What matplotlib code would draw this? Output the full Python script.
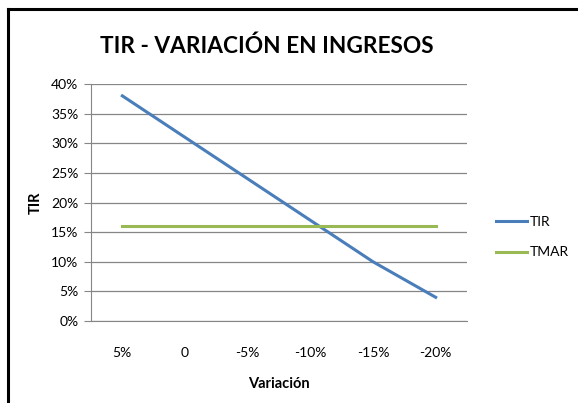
import matplotlib.pyplot as plt
from matplotlib.lines import Line2D
from matplotlib.ticker import FuncFormatter

# datos
variacion = ['5%', '0', '-5%', '-10%', '-15%', '-20%']
tir = [0.38, 0.31, 0.24, 0.17, 0.10, 0.04]
tmar = [0.16, 0.16, 0.16, 0.16, 0.16, 0.16]

plt.rcParams['font.family'] = ['Lato', 'DejaVu Sans']

W, H = 578, 403
fig = plt.figure(figsize=(W / 100, H / 100), dpi=100)

# marco negro (cortado a la derecha y abajo)
fig.add_artist(Line2D([8 / W, 8 / W], [0, 1 - 9 / H], color='black', lw=2.2, transform=fig.transFigure))
fig.add_artist(Line2D([8 / W, 1.0], [1 - 9 / H, 1 - 9 / H], color='black', lw=2.2, transform=fig.transFigure))

ax = fig.add_axes([91 / W, 1 - 321 / H, (467 - 91) / W, (321 - 84) / H])

x = range(len(variacion))
ax.plot(x, tir, color='#4a7ebb', lw=2.2, label='TIR')
ax.plot(x, tmar, color='#98b954', lw=2.2, label='TMAR')

ax.set_xlim(-0.5, len(variacion) - 0.5)
ax.set_ylim(0, 0.40)
ax.set_yticks([i * 0.05 for i in range(9)])
ax.yaxis.set_major_formatter(FuncFormatter(lambda v, p: f'{v * 100:.0f}%'))
ax.set_xticks(list(x))
ax.set_xticklabels(variacion)

ax.grid(axis='y', color='#868686', lw=0.9)
ax.set_axisbelow(True)
for s in ['top', 'right']:
    ax.spines[s].set_visible(False)
ax.spines['left'].set_color('#868686')
ax.spines['bottom'].set_color('#868686')
ax.tick_params(axis='y', length=5, color='#868686', labelsize=10, pad=4)
ax.tick_params(axis='x', length=0, labelsize=10, pad=19)

ax.set_ylabel('TIR', fontsize=10.5, fontweight='bold', labelpad=6)
ax.set_xlabel('Variación', fontsize=10.5, fontweight='bold', labelpad=13)

fig.text(267 / W, 1 - 46 / H, 'TIR - VARIACIÓN EN INGRESOS', fontsize=16.3, fontweight='bold',
         ha='center', va='center')

fig.legend(loc='center left', bbox_to_anchor=(483 / W, 1 - 237 / H), frameon=False,
           handlelength=2.3, handletextpad=0.15, labelspacing=1.35, fontsize=10)

fig.savefig('out.png', dpi=100)
